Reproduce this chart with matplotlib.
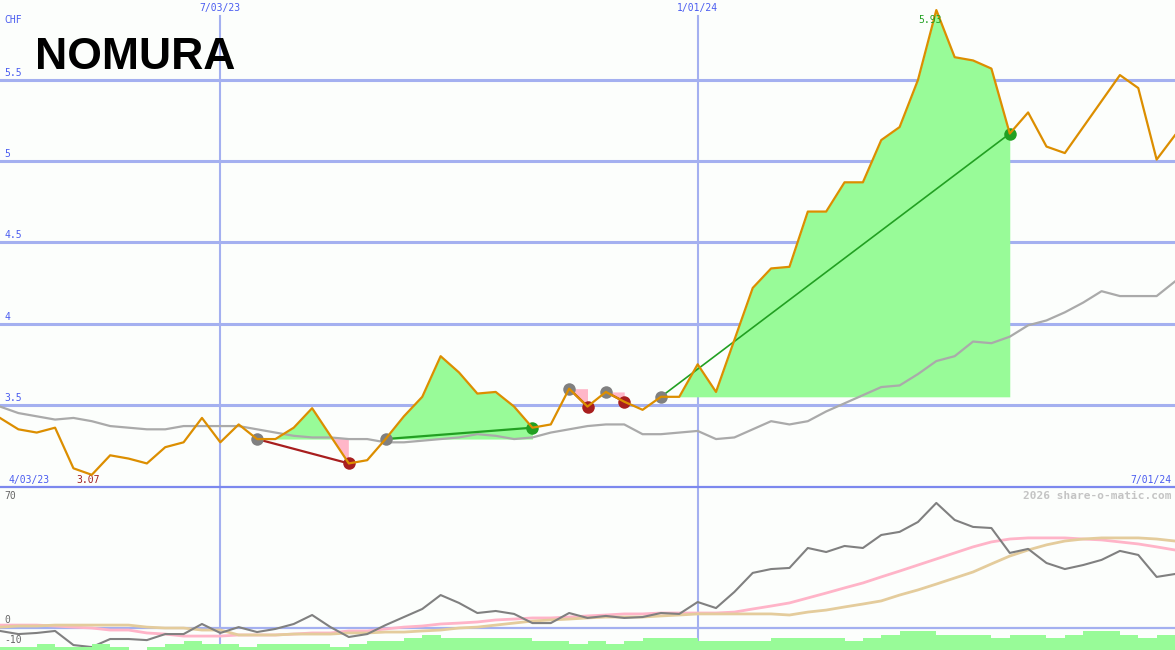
import matplotlib
matplotlib.use('Agg')
import matplotlib.pyplot as plt
import matplotlib.dates as mdates
import numpy as np
import pandas as pd

# weekly closes, CHF
dates = pd.date_range('2023-04-10', periods=65, freq='7D')
price = [3.42, 3.35, 3.33, 3.36, 3.11, 3.07, 3.19, 3.17, 3.14, 3.24,
         3.27, 3.42, 3.27, 3.38, 3.29, 3.29, 3.36, 3.48, 3.31, 3.14,
         3.16, 3.29, 3.43, 3.55, 3.80, 3.70, 3.57, 3.58, 3.49, 3.36,
         3.38, 3.60, 3.49, 3.58, 3.52, 3.47, 3.55, 3.55, 3.75, 3.58,
         3.90, 4.22, 4.34, 4.35, 4.69, 4.69, 4.87, 4.87, 5.13, 5.21,
         5.50, 5.93, 5.64, 5.62, 5.57, 5.17, 5.30, 5.09, 5.05, 5.21,
         5.37, 5.53, 5.45, 5.01, 5.16]
ma = [3.49, 3.45, 3.43, 3.41, 3.42, 3.40, 3.37, 3.36, 3.35, 3.35,
      3.37, 3.37, 3.37, 3.37, 3.35, 3.33, 3.31, 3.30, 3.30, 3.29,
      3.29, 3.27, 3.27, 3.28, 3.29, 3.30, 3.32, 3.31, 3.29, 3.30,
      3.33, 3.35, 3.37, 3.38, 3.38, 3.32, 3.32, 3.33, 3.34, 3.29,
      3.30, 3.35, 3.40, 3.38, 3.40, 3.46, 3.51, 3.56, 3.61, 3.62,
      3.69, 3.77, 3.80, 3.89, 3.88, 3.92, 3.99, 4.02, 4.07, 4.13,
      4.20, 4.17, 4.17, 4.17, 4.26]

# trades: entry / exit week index
trade_in = [14, 21, 31, 33, 36]
trade_out = [19, 29, 32, 34, 55]

# lower panel
momentum = [-1.6, -3.3, -2.7, -1.6, -9.3, -10.4, -6.0, -6.0, -6.6, -3.3,
            -3.3, 2.2, -2.7, 0.5, -2.2, -0.5, 2.2, 7.1, 0.5, -4.9,
            -3.3, 1.6, 6.0, 10.4, 18.0, 13.7, 8.2, 9.3, 7.7, 2.7,
            2.7, 8.2, 5.5, 6.6, 5.5, 6.0, 8.2, 7.7, 14.2, 10.9,
            19.7, 30.1, 32.2, 32.8, 43.7, 41.5, 44.8, 43.7, 50.8, 52.5,
            57.9, 68.3, 59.0, 55.2, 54.6, 41.0, 43.2, 35.5, 32.2, 34.4,
            37.2, 42.1, 39.9, 27.9, 29.5]
mom_fast = [1.6, 1.6, 1.6, 1.1, 0.5, 0, -1.1, -1.1, -2.7, -3.3,
            -4.4, -4.4, -4.4, -3.8, -3.8, -3.8, -3.3, -2.7, -2.7, -1.6,
            -1.6, -0.5, 0.5, 1.1, 2.2, 2.7, 3.3, 4.4, 4.9, 5.5,
            5.5, 6.0, 6.6, 7.1, 7.7, 7.7, 8.2, 8.2, 8.2, 8.2,
            8.7, 10.4, 12.0, 13.7, 16.4, 19.1, 21.9, 24.6, 27.9, 31.1,
            34.4, 37.7, 41.0, 44.3, 47.0, 48.6, 49.2, 49.2, 49.2, 48.6,
            48.1, 47.0, 45.9, 44.3, 42.6]
mom_slow = [0.5, 1.1, 1.1, 1.6, 1.6, 1.6, 1.6, 1.6, 0.5, 0,
            0, -1.1, -1.1, -3.8, -3.8, -3.8, -3.3, -3.3, -3.3, -2.7,
            -2.7, -2.2, -2.2, -1.6, -1.1, 0, 0.5, 1.6, 2.7, 3.8,
            4.4, 4.9, 5.5, 6.0, 6.0, 6.0, 6.6, 7.1, 7.7, 7.7,
            7.7, 7.7, 7.7, 7.1, 8.7, 9.8, 11.5, 13.1, 14.8, 18.0,
            20.8, 24.0, 27.3, 30.6, 35.0, 39.3, 42.6, 45.4, 47.5, 48.6,
            49.2, 49.2, 49.2, 48.6, 47.5]
volume = [3, 3, 6, 3, 3, 6, 3, 0, 3, 6, 9, 6, 6, 3, 6, 6, 6, 6, 3, 6,
          9, 9, 12, 15, 12, 12, 12, 12, 12, 9, 9, 6, 9, 6, 9, 12, 12, 12, 9, 9,
          9, 9, 12, 12, 12, 12, 9, 12, 15, 19, 19, 15, 15, 15, 12, 15, 15, 12, 15, 19,
          19, 15, 12, 15]

bg = '#fcfefc'
grid = '#a4b0f0'
blue_txt = '#4a5cf0'
orange = '#dc8e00'
green_fill = '#98fb98'
pink_fill = '#ffb6c8'
mono = 'DejaVu Sans Mono'

fig = plt.figure(figsize=(11.75, 6.5), dpi=100)
fig.patch.set_facecolor(bg)
ax = fig.add_axes([0, 163 / 650, 1, 487 / 650])
ax2 = fig.add_axes([0, 0, 1, 163 / 650])
for a in (ax, ax2):
    a.set_facecolor(bg)
    a.set_axis_off()
    a.set_xlim(dates[0], dates[-1])

ax.set_ylim(2.995, 5.992)
x = mdates.date2num(dates)
p = np.array(price)

for lvl in [3.5, 4, 4.5, 5, 5.5]:
    ax.axhline(lvl, color=grid, lw=2.2, zorder=0)
    ax.text(0.004, lvl + 0.012, ('%g' % lvl), transform=ax.get_yaxis_transform(),
            color=blue_txt, fontsize=7, family=mono, va='bottom')
for d, lab in [('2023-07-03', '7/03/23'), ('2024-01-01', '1/01/24')]:
    dn = mdates.date2num(pd.Timestamp(d))
    ax.axvline(dn, ymax=1 - 16 / 487, color=grid, lw=1.5, zorder=0)
    ax2.axvline(dn, color=grid, lw=1.5, zorder=0)
    ax.text(dn, 1 - 8 / 487, lab, transform=ax.get_xaxis_transform(), ha='center',
            va='center', color=blue_txt, fontsize=7, family=mono)

# trade shading
for i0, i1 in zip(trade_in, trade_out):
    xs = x[i0:i1 + 1]
    ys = p[i0:i1 + 1]
    lvl = p[i0]
    ax.fill_between(xs, ys, lvl, where=ys >= lvl, interpolate=True, color=green_fill, lw=0, zorder=1)
    ax.fill_between(xs, ys, lvl, where=ys <= lvl, interpolate=True, color=pink_fill, lw=0, zorder=1)

ax.plot(x, ma, color='#aaaaaa', lw=1.6, zorder=2)

for i0, i1 in zip(trade_in, trade_out):
    win = p[i1] > p[i0]
    c = '#22a022' if win else '#a81e1e'
    ax.plot([x[i0], x[i1]], [p[i0], p[i1]], color=c, lw=1.6 if i1 - i0 < 10 else 1.2, zorder=3)
    ax.plot(x[i0], p[i0], 'o', color='#808080', ms=9, mec='none', zorder=4)
    ax.plot(x[i1], p[i1], 'o', color=c, ms=9, mec='none', zorder=4)

ax.plot(x, p, color=orange, lw=1.6, zorder=5)

imin = int(np.argmin(p))
imax = int(np.argmax(p))
ax.text(x[imin] - 1.5, 7 / 487, '%.2f' % p[imin], transform=ax.get_xaxis_transform(),
        ha='center', va='center', color='#a01e1e', fontsize=7, family=mono)
ax.annotate('%.2f' % p[imax], (x[imax], p[imax]), xytext=(-6, -10), textcoords='offset pixels',
            ha='center', va='center', color='#22a022', fontsize=7, family=mono, zorder=6)

ax.text(0.004, 1 - 20 / 487, 'CHF', transform=ax.transAxes, color=blue_txt, fontsize=7,
        family=mono, va='center')
ax.text(0.007, 7 / 487, '4/03/23', transform=ax.transAxes, color=blue_txt, fontsize=7,
        family=mono, va='center')
ax.text(0.997, 7 / 487, '7/01/24', transform=ax.transAxes, color=blue_txt, fontsize=7,
        family=mono, va='center', ha='right')
fig.text(35 / 1175, 1 - 69 / 650, 'NOMURA', fontsize=32, fontweight='heavy',
         family='Liberation Sans', color='black', va='baseline')

# separator
fig.add_artist(plt.Line2D([0, 1], [163 / 650, 163 / 650], color='#7c88ee', lw=1.6))

# lower panel
ax2.set_ylim(-12, 77)
ax2.axhline(0, color=grid, lw=1.6, zorder=0)
ax2.plot(x, mom_fast, color='#ffb4c8', lw=2, zorder=3)
ax2.plot(x, mom_slow, color='#e4cc9c', lw=2, zorder=3)
ax2.plot(x, momentum, color='#808080', lw=1.5, zorder=4)
axv = ax2.twinx()
axv.set_axis_off()
axv.set_ylim(0, 163)
axv.bar(x[:-1], volume, width=7, align='edge', color=green_fill, lw=0, zorder=2)
for v, lab, off in [(70, '70', -0.5), (0, '0', 1.5), (-10, '-10', 1.0)]:
    ax2.text(0.004, v + off, lab, transform=ax2.get_yaxis_transform(), color='#666666',
             fontsize=7, family=mono, va='bottom')
ax2.text(0.997, 1 - 9 / 163, '2026 share-o-matic.com', transform=ax2.transAxes, ha='right',
         va='center', color='#c4c4c4', fontsize=8, family=mono, fontweight='bold')

fig.savefig('out.png', dpi=100, facecolor=bg)
